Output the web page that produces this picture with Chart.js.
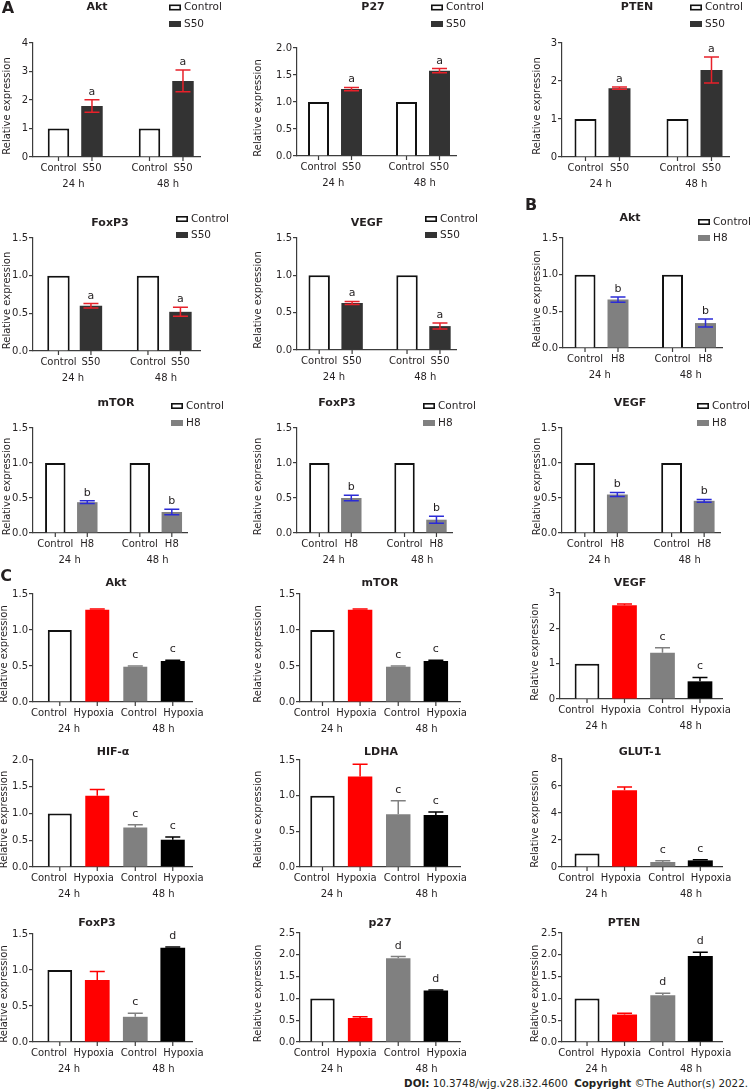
<!DOCTYPE html>
<html><head><meta charset="utf-8">
<script src="https://cdn.jsdelivr.net/npm/chart.js@4.4.0/dist/chart.umd.min.js"></script>
<style>
html,body{margin:0;padding:0;background:#fff;}
body{width:753px;height:1092px;position:relative;overflow:hidden;font-family:'DejaVu Sans',Verdana,sans-serif;}
canvas{position:absolute;}
#foot{position:absolute;right:5px;top:1077px;font-size:10.3px;line-height:12px;color:#231f20;white-space:nowrap;}
</style></head><body>
<div id="foot"><b>DOI:</b> 10.3748/wjg.v28.i32.4600 &nbsp;<b>Copyright</b> ©The Author(s) 2022.</div>
<script>
// ---------- DATA ----------
const timepoints = ['24 h', '48 h'];
const groupsS50 = ['Control', 'S50'];
const groupsH8 = ['Control', 'H8'];
const groupsHyp = ['Control', 'Hypoxia'];
const yAxisTitle = 'Relative expression';
// order: [Control 24 h, treatment 24 h, Control 48 h, treatment 48 h]
const aAkt = [1, 1.79, 1, 2.67];      const aAktErr = [0, 0.22, 0, 0.38];    const aAktSig = ['', 'a', '', 'a'];
const aP27 = [1, 1.24, 1, 1.58];      const aP27Err = [0, 0.03, 0, 0.04];    const aP27Sig = ['', 'a', '', 'a'];
const aPTEN = [1, 1.81, 1, 2.29];     const aPTENErr = [0, 0.03, 0, 0.34];   const aPTENSig = ['', 'a', '', 'a'];
const aFoxP3 = [1, 0.60, 1, 0.52];    const aFoxP3Err = [0, 0.03, 0, 0.06];  const aFoxP3Sig = ['', 'a', '', 'a'];
const aVEGF = [1, 0.63, 1, 0.32];     const aVEGFErr = [0, 0.02, 0, 0.04];   const aVEGFSig = ['', 'a', '', 'a'];
const bAkt = [1, 0.66, 1, 0.34];      const bAktErr = [0, 0.035, 0, 0.055];  const bAktSig = ['', 'b', '', 'b'];
const bmTOR = [1, 0.44, 1, 0.30];     const bmTORErr = [0, 0.02, 0, 0.04];   const bmTORSig = ['', 'b', '', 'b'];
const bFoxP3 = [1, 0.50, 1, 0.19];    const bFoxP3Err = [0, 0.04, 0, 0.05];  const bFoxP3Sig = ['', 'b', '', 'b'];
const bVEGF = [1, 0.55, 1, 0.46];     const bVEGFErr = [0, 0.03, 0, 0.02];   const bVEGFSig = ['', 'b', '', 'b'];
const cAkt = [1, 1.28, 0.49, 0.57];   const cAktErr = [0, 0.01, 0.01, 0.01]; const cAktSig = ['', '', 'c', 'c'];
const cmTOR = [1, 1.28, 0.49, 0.57];  const cmTORErr = [0, 0.01, 0.01, 0.01];const cmTORSig = ['', '', 'c', 'c'];
const cVEGF = [1, 2.65, 1.31, 0.50];  const cVEGFErr = [0, 0.04, 0.14, 0.11];const cVEGFSig = ['', '', 'c', 'c'];
const cHIF = [1, 1.33, 0.74, 0.51];   const cHIFErr = [0, 0.12, 0.05, 0.05]; const cHIFSig = ['', '', 'c', 'c'];
const cLDHA = [1, 1.27, 0.74, 0.73];  const cLDHAErr = [0, 0.17, 0.19, 0.04];const cLDHASig = ['', '', 'c', 'c'];
const cGLUT = [1, 5.68, 0.37, 0.49];  const cGLUTErr = [0, 0.25, 0.10, 0.05];const cGLUTSig = ['', '', 'c', 'c'];
const cFoxP3 = [1, 0.86, 0.35, 1.31]; const cFoxP3Err = [0, 0.12, 0.05, 0.01];const cFoxP3Sig = ['', '', 'c', 'd'];
const cp27 = [1, 0.55, 1.92, 1.18];   const cp27Err = [0, 0.03, 0.04, 0.01]; const cp27Sig = ['', '', 'd', 'd'];
const cPTEN = [1, 0.63, 1.07, 1.97];  const cPTENErr = [0, 0.03, 0.05, 0.09];const cPTENSig = ['', '', 'd', 'd'];

// ---------- STYLE / LAYOUT ----------
const FF = "'DejaVu Sans', Verdana, sans-serif";
const TXT = '#231f20';
const AX = '#3c3c3c';
const STYLE = {
  A: {bg: [['#ffffff','#ffffff'], ['#333333','#333333']], bd: [['#111111','#111111'], ['#333333','#333333']], bw: [[2,2],[0,0]],
      ec: [['#e8212a','#e8212a'], ['#e8212a','#e8212a']], mode: 'both', gap: 5, sub: 1.0, grp: 1.04},
  B: {bg: [['#ffffff','#ffffff'], ['#808080','#808080']], bd: [['#111111','#111111'], ['#808080','#808080']], bw: [[2,2],[0,0]],
      ec: [['#2b2bd6','#2b2bd6'], ['#2b2bd6','#2b2bd6']], mode: 'both', gap: 5, sub: 1.0, grp: 1.04},
  C: {bg: [['#ffffff','#808080'], ['#ff0000','#000000']], bd: [['#111111','#808080'], ['#ff0000','#000000']], bw: [[2,0],[0,0]],
      ec: [['#111111','#808080'], ['#ff0000','#000000']], mode: 'up', gap: 8, sub: 1.19, grp: 1.25}
};

const panels = [
  {kind:'A', title:'Akt',   groups:groupsS50, v:aAkt,   e:aAktErr,   s:aAktSig,   cell:[0,0,251,192],   L:33,  T:43,  R:200, B:157, xr:[-0.464,1.371], cp:0.736, bp:0.642, ymax:4,   step:1,   dec:0, tx:97,  ty:7,   leg:[169,7.5,24],  ytx:7,   pl:['A',8,9]},
  {kind:'A', title:'P27',   groups:groupsS50, v:aP27,   e:aP27Err,   s:aP27Sig,   cell:[251,0,251,192], L:297, T:48,  R:456, B:156, xr:[-0.432,1.375], cp:0.75,  bp:0.636, ymax:2,   step:0.5, dec:1, tx:373, ty:7,   leg:[431,7.5,24],  ytx:258},
  {kind:'A', title:'PTEN',  groups:groupsS50, v:aPTEN,  e:aPTENErr,  s:aPTENSig,  cell:[502,0,251,192], L:562, T:43,  R:729, B:157, xr:[-0.44,1.375],  cp:0.739, bp:0.647, ymax:3,   step:1,   dec:0, tx:637, ty:7,   leg:[690,7.5,24],  ytx:537},
  {kind:'A', title:'FoxP3', groups:groupsS50, v:aFoxP3, e:aFoxP3Err, s:aFoxP3Sig, cell:[0,192,251,190], L:33,  T:238, R:200, B:351, xr:[-0.466,1.40],  cp:0.726, bp:0.69,  ymax:1.5, step:0.5, dec:1, tx:110, ty:223, leg:[176,219,235], ytx:7},
  {kind:'A', title:'VEGF',  groups:groupsS50, v:aVEGF,  e:aVEGFErr,  s:aVEGFSig,  cell:[251,192,251,190],L:297, T:238, R:456, B:350, xr:[-0.44,1.37],   cp:0.75,  bp:0.65,  ymax:1.5, step:0.5, dec:1, tx:367, ty:223, leg:[425,219,235], ytx:258},
  {kind:'B', title:'Akt',   groups:groupsH8,  v:bAkt,   e:bAktErr,   s:bAktSig,   cell:[502,192,251,190],L:563, T:238, R:722, B:348, xr:[-0.44,1.377],  cp:0.754, bp:0.636, ymax:1.5, step:0.5, dec:1, tx:630, ty:218, leg:[698,222,238], ytx:537, pl:['B',531,206]},
  {kind:'B', title:'mTOR',  groups:groupsH8,  v:bmTOR,  e:bmTORErr,  s:bmTORSig,  cell:[0,382,251,184], L:33,  T:428, R:187, B:533, xr:[-0.453,1.369], cp:0.757, bp:0.64,  ymax:1.5, step:0.5, dec:1, tx:116, ty:403, leg:[171,406,423], ytx:7},
  {kind:'B', title:'FoxP3', groups:groupsH8,  v:bFoxP3, e:bFoxP3Err, s:bFoxP3Sig, cell:[251,382,251,184],L:297, T:428, R:452, B:533, xr:[-0.45,1.37],   cp:0.75,  bp:0.64,  ymax:1.5, step:0.5, dec:1, tx:337, ty:403, leg:[423,406,423], ytx:258},
  {kind:'B', title:'VEGF',  groups:groupsH8,  v:bVEGF,  e:bVEGFErr,  s:bVEGFSig,  cell:[502,382,251,184],L:562, T:428, R:720, B:533, xr:[-0.45,1.37],   cp:0.75,  bp:0.64,  ymax:1.5, step:0.5, dec:1, tx:630, ty:403, leg:[697,406,423], ytx:537},
  {kind:'C', title:'Akt',   groups:groupsHyp, v:cAkt,   e:cAktErr,   s:cAktSig,   cell:[0,566,251,174], L:33,  T:594, R:192, B:702, xr:[-0.603,1.503], cp:0.993, bp:0.64,  ymax:1.5, step:0.5, dec:1, tx:116, ty:583, ytx:4, pl:['C',6,577]},
  {kind:'C', title:'mTOR',  groups:groupsHyp, v:cmTOR,  e:cmTORErr,  s:cmTORSig,  cell:[251,566,251,174],L:300, T:594, R:460, B:702, xr:[-0.545,1.567], cp:0.993, bp:0.65,  ymax:1.5, step:0.5, dec:1, tx:380, ty:583, ytx:258},
  {kind:'C', title:'VEGF',  groups:groupsHyp, v:cVEGF,  e:cVEGFErr,  s:cVEGFSig,  cell:[502,566,251,174],L:560, T:593, R:722, B:699, xr:[-0.606,1.54],  cp:0.993, bp:0.66,  ymax:3,   step:1,   dec:0, tx:630, ty:583, ytx:535},
  {kind:'C', title:'HIF-α', groups:groupsHyp, v:cHIF,   e:cHIFErr,   s:cHIFSig,   cell:[0,740,251,168], L:33,  T:760, R:192, B:867, xr:[-0.603,1.503], cp:0.993, bp:0.64,  ymax:2,   step:0.5, dec:1, tx:113, ty:752, ytx:4},
  {kind:'C', title:'LDHA',  groups:groupsHyp, v:cLDHA,  e:cLDHAErr,  s:cLDHASig,  cell:[251,740,251,168],L:300, T:760, R:460, B:867, xr:[-0.545,1.567], cp:0.993, bp:0.65,  ymax:1.5, step:0.5, dec:1, tx:381, ty:752, ytx:258},
  {kind:'C', title:'GLUT-1',groups:groupsHyp, v:cGLUT,  e:cGLUTErr,  s:cGLUTSig,  cell:[502,740,251,168],L:562, T:759, R:722, B:867, xr:[-0.578,1.534], cp:0.99,  bp:0.667, ymax:8,   step:2,   dec:0, tx:640, ty:752, ytx:535},
  {kind:'C', title:'FoxP3', groups:groupsHyp, v:cFoxP3, e:cFoxP3Err, s:cFoxP3Sig, cell:[0,906,251,172], L:33,  T:934, R:192, B:1042,xr:[-0.603,1.503], cp:0.993, bp:0.66,  ymax:1.5, step:0.5, dec:1, tx:97,  ty:923, ytx:4},
  {kind:'C', title:'p27',   groups:groupsHyp, v:cp27,   e:cp27Err,   s:cp27Sig,   cell:[251,906,251,172],L:300, T:933, R:460, B:1042,xr:[-0.545,1.567], cp:0.993, bp:0.65,  ymax:2.5, step:0.5, dec:1, tx:380, ty:923, ytx:258},
  {kind:'C', title:'PTEN',  groups:groupsHyp, v:cPTEN,  e:cPTENErr,  s:cPTENSig,  cell:[502,906,251,172],L:562, T:933, R:722, B:1042,xr:[-0.578,1.534], cp:0.99,  bp:0.667, ymax:2.5, step:0.5, dec:1, tx:624, ty:923, ytx:535}
];

// ---------- PLUGIN: error bars, letters, labels, legend, titles ----------
const decor = {
  id: 'decor',
  afterDatasetsDraw(chart, args, o) {
    const ctx = chart.ctx, ys = chart.scales.y;
    ctx.save();
    chart.data.datasets.forEach((ds, di) => {
      chart.getDatasetMeta(di).data.forEach((el, j) => {
        const v = ds.data[j], e = ds.errors[j];
        let top = v;
        if (e > 0) {
          top = v + e;
          const yT = ys.getPixelForValue(v + e);
          const yB = ys.getPixelForValue(o.mode === 'both' ? v - e : v);
          ctx.strokeStyle = ds.errColor[j]; ctx.lineWidth = 1.5;
          ctx.beginPath();
          ctx.moveTo(el.x, yT); ctx.lineTo(el.x, yB);
          ctx.moveTo(el.x - o.cap / 2, yT); ctx.lineTo(el.x + o.cap / 2, yT);
          if (o.mode === 'both') { ctx.moveTo(el.x - o.cap / 2, yB); ctx.lineTo(el.x + o.cap / 2, yB); }
          ctx.stroke();
        }
        const s = ds.sig[j];
        if (s) {
          ctx.fillStyle = TXT; ctx.font = '11px ' + FF;
          ctx.textAlign = 'center'; ctx.textBaseline = 'alphabetic';
          ctx.fillText(s, el.x, ys.getPixelForValue(top) - o.gap);
        }
      });
    });
    ctx.restore();
  },
  afterDraw(chart, args, o) {
    const ctx = chart.ctx, xs = chart.scales.x, ca = chart.chartArea;
    const bars = [];
    chart.data.datasets.forEach((ds, di) => {
      chart.getDatasetMeta(di).data.forEach((el, j) => bars.push({ds, j, x: el.x}));
    });
    bars.sort((a, b) => a.x - b.x);
    const mid = (bars[0].x + bars[bars.length - 1].x) / 2;
    ctx.save();
    // x tick marks under each bar
    ctx.strokeStyle = AX; ctx.lineWidth = 1.2;
    ctx.beginPath();
    bars.forEach(b => { ctx.moveTo(b.x, ca.bottom); ctx.lineTo(b.x, ca.bottom + 4); });
    ctx.stroke();
    // bar labels and time labels
    ctx.fillStyle = TXT; ctx.font = '10px ' + FF; ctx.textAlign = 'center'; ctx.textBaseline = 'middle';
    bars.forEach(b => ctx.fillText(b.ds.label, mid + (b.x - mid) * o.sub, ca.bottom + 11));
    chart.data.labels.forEach((lab, i) => {
      const gx = xs.getPixelForValue(i);
      ctx.fillText(lab, mid + (gx - mid) * o.grp, ca.bottom + 27);
    });
    // title
    ctx.font = 'bold 11px ' + FF;
    ctx.fillText(o.title, o.tx, o.ty);
    // panel letter
    if (o.pl) { ctx.font = 'bold 16px ' + FF; ctx.fillText(o.pl[0], o.pl[1], o.pl[2]); }
    // y title
    ctx.save();
    ctx.translate(o.ytx, (ca.top + ca.bottom) / 2 + 6);
    ctx.rotate(-Math.PI / 2);
    ctx.font = '10px ' + FF;
    ctx.fillText(o.ytitle, 0, 0);
    ctx.restore();
    // legend
    if (o.leg) {
      chart.data.datasets.forEach((ds, k) => {
        const lx = o.leg[0], ly = o.leg[1 + k];
        ctx.fillStyle = ds.backgroundColor[0];
        ctx.fillRect(lx, ly - 3, 12, 6);
        if (ds.borderWidth[0] > 0) { ctx.strokeStyle = '#111'; ctx.lineWidth = 1.6; ctx.strokeRect(lx + 0.8, ly - 2.2, 10.4, 4.4); }
        ctx.fillStyle = TXT; ctx.font = '10.5px ' + FF; ctx.textAlign = 'left';
        ctx.fillText(ds.label, lx + 15, ly);
      });
    }
    ctx.restore();
  }
};

// ---------- BUILD ----------
panels.forEach(p => {
  const [cx, cy, cw, ch] = p.cell;
  const cv = document.createElement('canvas');
  cv.width = cw; cv.height = ch;
  cv.style.left = cx + 'px'; cv.style.top = cy + 'px';
  document.body.appendChild(cv);
  const st = STYLE[p.kind];
  const datasets = [0, 1].map(k => ({
    label: p.groups[k],
    data: [p.v[k], p.v[k + 2]],
    errors: [p.e[k], p.e[k + 2]],
    sig: [p.s[k], p.s[k + 2]],
    backgroundColor: st.bg[k], borderColor: st.bd[k], borderWidth: st.bw[k],
    errColor: st.ec[k],
    categoryPercentage: p.cp, barPercentage: p.bp
  }));
  new Chart(cv, {
    type: 'bar',
    data: {labels: timepoints, datasets},
    options: {
      responsive: false, animation: false, devicePixelRatio: 1,
      layout: {padding: {left: 0, top: p.T - cy, right: cx + cw - p.R, bottom: 0}},
      scales: {
        x: {
          type: 'category', offset: true,
          afterBuildTicks: s => { s._startValue = p.xr[0]; s._valueRange = p.xr[1] - p.xr[0]; },
          afterFit: s => { s.height = cy + ch - p.B; },
          grid: {display: true, drawOnChartArea: false, drawTicks: false},
          border: {display: true, color: AX, width: 1.2},
          ticks: {display: false}
        },
        y: {
          min: 0, max: p.ymax,
          afterFit: s => { s.width = p.L - cx; },
          grid: {display: true, drawOnChartArea: false, drawTicks: true, tickLength: 4, color: AX, lineWidth: 1.2},
          border: {display: true, color: AX, width: 1.2},
          ticks: {stepSize: p.step, padding: 1, color: TXT, font: {family: FF, size: 10},
                  callback: val => Number(val).toFixed(p.dec)}
        }
      },
      plugins: {
        legend: {display: false}, tooltip: {enabled: false},
        decor: {mode: st.mode, gap: st.gap, cap: 15, sub: st.sub, grp: st.grp,
                title: p.title, tx: p.tx - cx, ty: p.ty - cy,
                pl: p.pl ? [p.pl[0], p.pl[1] - cx, p.pl[2] - cy] : null,
                leg: p.leg ? [p.leg[0] - cx, p.leg[1] - cy, p.leg[2] - cy] : null,
                ytx: p.ytx - cx, ytitle: yAxisTitle}
      }
    },
    plugins: [decor]
  });
});
</script>
</body></html>
